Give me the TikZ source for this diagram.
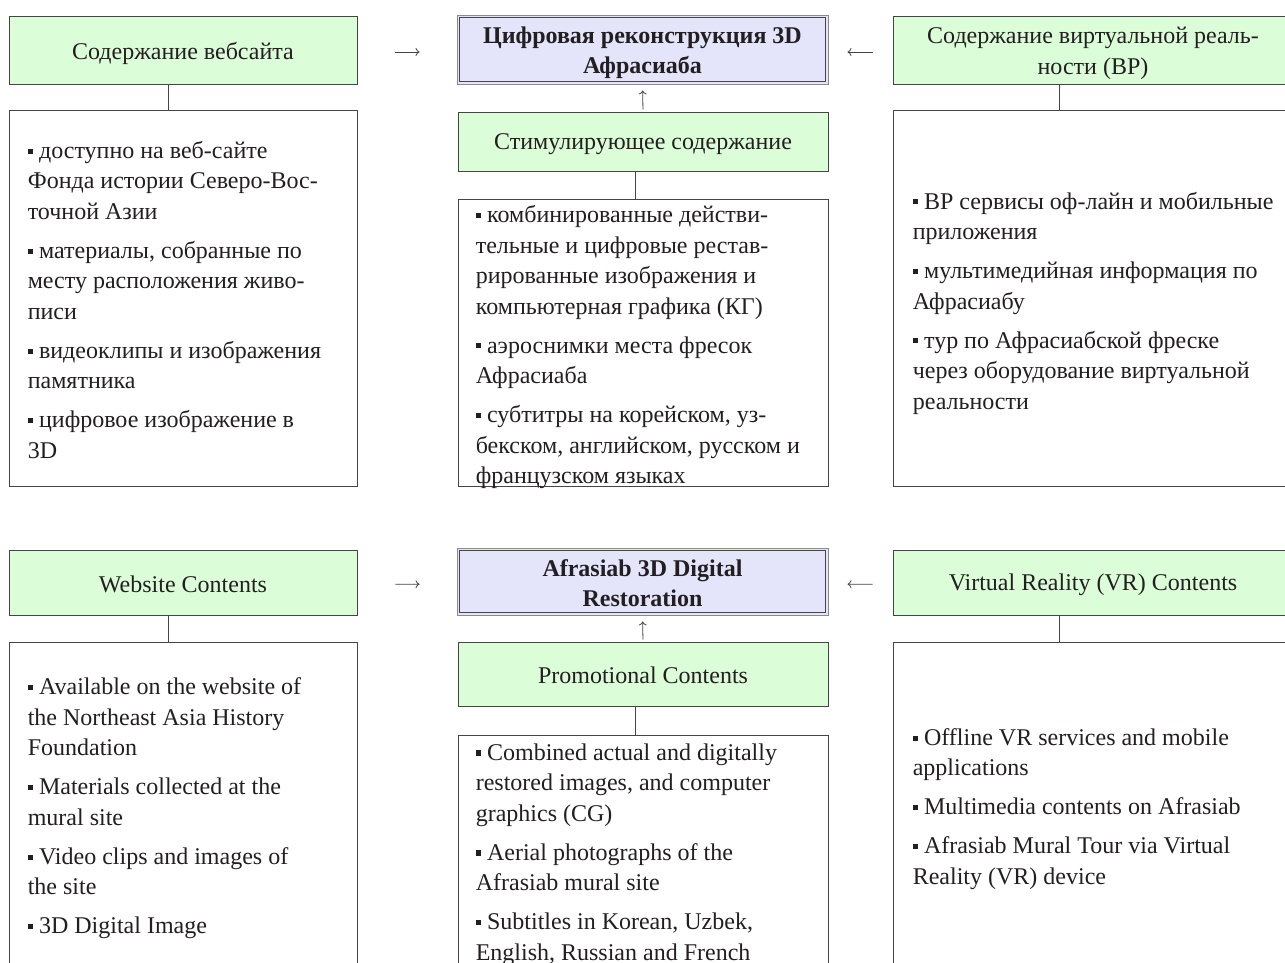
\documentclass[tikz,border=0pt]{standalone}
\usepackage{fontspec}
\setmainfont{Liberation Serif}
\usetikzlibrary{arrows.meta}
\definecolor{hdrgreen}{HTML}{DBFDD8}
\definecolor{hdrblue}{HTML}{E4E4FB}
\definecolor{edge}{HTML}{454545}
\definecolor{edgelight}{HTML}{8A8A8A}
\definecolor{ink}{HTML}{231F20}
\newcommand{\bul}{\raisebox{0.19em}{\rule{0.22em}{0.22em}}\ }
\begin{document}
\begin{tikzpicture}[x=1pt,y=-1pt,
  every node/.style={font=\fontsize{24}{30.5}\selectfont, text=ink, inner sep=0pt},
  hdrbox/.style={draw=edge, fill=hdrgreen, line width=0.8pt},
  ctrbox/.style={draw=edgelight, fill=hdrblue, line width=0.9pt},
  hdrtext/.style={align=center},
  ctrtext/.style={align=center, font=\fontsize{24}{30}\selectfont\bfseries},
  listbox/.style={draw=edge, fill=white, line width=0.8pt},
  listtext/.style={anchor=west, align=left},
  link/.style={draw=edge, line width=0.8pt},
  arr/.style={draw=edge, line width=0.8pt, -{To[length=4pt,width=8pt]}}
]
\useasboundingbox (0,0) rectangle (1285,963);
\clip (0,0) rectangle (1285,963);
\fill[white] (0,0) rectangle (1285,963);

% ---------------- Top (Russian) ----------------
\node[hdrbox, minimum width=348pt, minimum height=68pt] (web) at (183,50) {};
\node[hdrtext] (webT) at ([yshift=-3pt]web.center) {Содержание вебсайта};
\node[ctrbox, minimum width=371pt, minimum height=69pt] (recon) at (642.5,49.5) {};
\draw[edge, line width=0.8pt] ([shift={(3,3)}]recon.north west) rectangle ([shift={(-3,-3)}]recon.south east);
\node[ctrtext] (reconT) at ([yshift=-3.5pt]recon.center) {Цифровая реконструкция 3D\\Афрасиаба};
\node[hdrbox, minimum width=400pt, minimum height=68pt] (vr) at (1093,50) {};
\node[hdrtext] (vrT) at ([yshift=-3.5pt]vr.center) {Содержание виртуальной реаль-\\ности (ВР)};

\node[listbox, minimum width=348pt, minimum height=376pt] (weblist) at (183,298) {};
\node[hdrbox, minimum width=370pt, minimum height=59pt] (promo) at (643,141.5) {};
\node[hdrtext] (promoT) at ([yshift=-3pt]promo.center) {Стимулирующее содержание};
\node[listbox, minimum width=370pt, minimum height=287pt] (promolist) at (643,342.5) {};
\node[listbox, minimum width=400pt, minimum height=376pt] (vrlist) at (1093,298) {};

\node[listtext] (webtxt) at ([xshift=19pt,yshift=-2pt]weblist.west) {\bul доступно на веб-сайте\\Фонда истории Северо-Вос-\\точной Азии\\[8.5pt]
\bul материалы, собранные по\\месту расположения живо-\\писи\\[8.5pt]
\bul видеоклипы и изображения\\памятника\\[8.5pt]
\bul цифровое изображение в\\3D};

\node[listtext] (promotxt) at ([xshift=18pt,yshift=-4.5pt]promolist.west) {\bul комбинированные действи-\\тельные и цифровые рестав-\\рированные изображения и\\компьютерная графика (КГ)\\[8.5pt]
\bul аэроснимки места фресок\\Афрасиаба\\[8.5pt]
\bul субтитры на корейском, уз-\\бекском, английском, русском и\\французском языках};

\node[listtext] (vrtxt) at ([xshift=20pt,yshift=-5pt]vrlist.west) {\bul ВР сервисы оф-лайн и мобильные\\приложения\\[8.5pt]
\bul мультимедийная информация по\\Афрасиабу\\[8.5pt]
\bul тур по Афрасиабской фреске\\через оборудование виртуальной\\реальности};

\draw[link] ([xshift=-15pt]web.south) -- ([xshift=-15pt]weblist.north);
\draw[link] ([xshift=-8pt]promo.south) -- ([xshift=-8pt]promolist.north);
\draw[link] ([xshift=-34pt]vr.south) -- ([xshift=-34pt]vrlist.north);
\draw[arr, shorten <=38pt, shorten >=37pt] ([yshift=-2pt]web.east) -- ([yshift=-2.5pt]recon.west);
\draw[arr, shorten <=20pt, shorten >=19pt] ([yshift=-2pt]vr.west) -- ([yshift=-2.5pt]recon.east);
\draw[arr, shorten <=2pt, shorten >=6pt] (promo.north) -- (recon.south);

% ---------------- Bottom (English) ----------------
\node[hdrbox, minimum width=348pt, minimum height=65pt] (webE) at (183,582.5) {};
\node[hdrtext] (webET) at ([yshift=-2pt]webE.center) {Website Contents};
\node[ctrbox, minimum width=371pt, minimum height=67pt] (reconE) at (642.5,581.5) {};
\draw[edge, line width=0.8pt] ([shift={(3,3)}]reconE.north west) rectangle ([shift={(-3,-3)}]reconE.south east);
\node[ctrtext] (reconET) at ([yshift=-2pt]reconE.center) {Afrasiab 3D Digital\\Restoration};
\node[hdrbox, minimum width=400pt, minimum height=65pt] (vrE) at (1093,582.5) {};
\node[hdrtext] (vrET) at ([yshift=-2pt]vrE.center) {Virtual Reality (VR) Contents};

\node[listbox, minimum width=348pt, minimum height=328pt] (weblistE) at (183,806) {};
\node[hdrbox, minimum width=370pt, minimum height=64pt] (promoE) at (643,674) {};
\node[hdrtext] (promoET) at ([yshift=-1.5pt]promoE.center) {Promotional Contents};
\node[listbox, minimum width=370pt, minimum height=232pt] (promolistE) at (643,851) {};
\node[listbox, minimum width=400pt, minimum height=328pt] (vrlistE) at (1093,806) {};

\node[listtext] (webtxtE) at ([xshift=19pt,yshift=-2.5pt]weblistE.west) {\bul Available on the website of\\the Northeast Asia History\\Foundation\\[8.5pt]
\bul Materials collected at the\\mural site\\[8.5pt]
\bul Video clips and images of\\the site\\[8.5pt]
\bul 3D Digital Image};

\node[listtext] (promotxtE) at ([xshift=18pt,yshift=-3.5pt]promolistE.west) {\bul Combined actual and digitally\\restored images, and computer\\graphics (CG)\\[8.5pt]
\bul Aerial photographs of the\\Afrasiab mural site\\[8.5pt]
\bul Subtitles in Korean, Uzbek,\\English, Russian and French};

\node[listtext] (vrtxtE) at ([xshift=20pt,yshift=-3pt]vrlistE.west) {\bul Offline VR services and mobile\\applications\\[8.5pt]
\bul Multimedia contents on Afrasiab\\[8.5pt]
\bul Afrasiab Mural Tour via Virtual\\Reality (VR) device};

\draw[link] ([xshift=-15pt]webE.south) -- ([xshift=-15pt]weblistE.north);
\draw[link] ([xshift=-8pt]promoE.south) -- ([xshift=-8pt]promolistE.north);
\draw[link] ([xshift=-34pt]vrE.south) -- ([xshift=-34pt]vrlistE.north);
\draw[arr, shorten <=38pt, shorten >=37pt] ([yshift=-2pt]webE.east) -- ([yshift=-2.5pt]reconE.west);
\draw[arr, shorten <=20pt, shorten >=19pt] ([yshift=-2pt]vrE.west) -- ([yshift=-2.5pt]reconE.east);
\draw[arr, shorten <=2pt, shorten >=6pt] (promoE.north) -- (reconE.south);
\end{tikzpicture}
\end{document}
